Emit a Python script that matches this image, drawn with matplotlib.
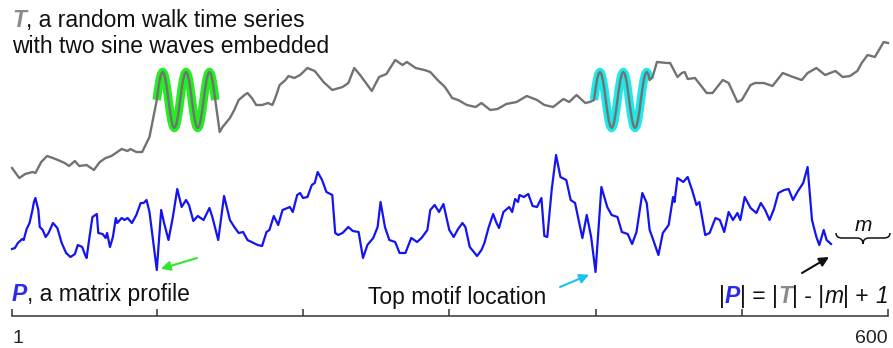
import matplotlib
matplotlib.use("Agg")
import matplotlib.pyplot as plt
from matplotlib.path import Path
from matplotlib.patches import PathPatch

plt.rcParams['font.family'] = ['Liberation Sans', 'DejaVu Sans']

# --- time series T (sample index, level) ---
walk_a_idx = [1, 6, 10, 15, 17, 21, 25, 29, 34, 37, 40, 44, 47, 52, 54, 57, 61, 65, 69, 71,
              76, 80, 82, 86, 90, 93, 95]
walk_a_val = [32, 22, 26, 28, 27, 38, 44, 42, 39, 37, 34, 39, 34, 35, 33, 30, 38, 42, 44, 46,
              51, 49, 51, 48, 48, 57, 63]

# first embedded sine wave, one value per sample from index 100
sine_a_start = 100
sine_a_val = [100, 111, 120, 126, 128, 126, 120, 111, 100, 89, 80, 74, 72, 74, 80, 89,
              100, 111, 120, 126, 128, 126, 120, 111, 100, 89, 80, 74, 72, 74, 80, 89,
              100, 111, 120, 126, 128, 126, 120, 111, 100]

walk_b_idx = [143, 145, 150, 153, 156, 160, 162, 165, 168, 172, 176, 179, 181, 184, 188, 190,
              194, 198, 203, 208, 214, 220, 227, 231, 235, 239, 247, 252, 257, 263, 268, 271,
              277, 283, 287, 292, 297, 302, 306, 312, 318, 322, 328, 333, 339, 346, 353, 360,
              365, 371, 378, 382, 387, 393, 396]
walk_b_val = [68, 73, 82, 90, 100, 105, 107, 102, 95, 95, 97, 95, 102, 115, 120, 124,
              122, 125, 132, 129, 118, 110, 113, 117, 132, 125, 109, 123, 126, 140, 135, 138,
              132, 130, 128, 120, 113, 102, 100, 95, 93, 97, 90, 91, 96, 98, 104, 100,
              95, 93, 101, 98, 105, 97, 98]

# second embedded sine wave, from index 399
sine_b_start = 399
sine_b_val = [100, 111, 120, 126, 128, 126, 120, 111, 100, 89, 80, 74, 72, 74, 80, 89,
              100, 111, 120, 126, 128, 126, 120, 111, 100, 89, 80, 74, 72, 74, 80, 89,
              100, 111, 120, 126, 128, 126, 120]

walk_c_idx = [439, 442, 449, 451, 456, 459, 461, 463, 468, 476, 480, 487, 491, 497, 500, 506,
              509, 515, 521, 528, 535, 541, 545, 551, 557, 564, 569, 574, 579, 582, 586, 591,
              597, 600]
walk_c_val = [123, 138, 137, 137, 123, 127, 128, 121, 122, 107, 107, 120, 117, 98, 100, 115,
              117, 117, 114, 127, 123, 120, 127, 132, 125, 129, 123, 124, 129, 137, 145, 143,
              158, 157]

# --- matrix profile P ---
p_idx = [1, 3, 5, 8, 9, 11, 13, 15, 16, 17, 19, 20, 22, 24, 26, 29, 32, 35, 38, 41,
         44, 46, 49, 51, 52, 54, 56, 59, 60, 63, 65, 66, 68, 70, 72, 73, 76, 78, 80, 83,
         86, 89, 91, 93, 95, 100, 103, 105, 108, 111, 114, 117, 120, 122, 125, 128, 132, 136, 138, 142,
         146, 150, 153, 156, 159, 162, 169, 172, 175, 177, 180, 183, 186, 191, 193, 196, 198, 200, 203, 206,
         208, 210, 213, 216, 220, 222, 224, 227, 231, 234, 238, 241, 244, 248, 251, 253, 256, 259, 263, 266,
         270, 274, 278, 281, 285, 287, 290, 293, 296, 298, 300, 303, 306, 309, 311, 314, 319, 322, 324, 327,
         330, 332, 334, 337, 341, 343, 345, 347, 348, 351, 354, 357, 360, 363, 365, 367, 370, 373, 376, 380,
         383, 386, 388, 391, 394, 397, 400, 404, 408, 411, 415, 418, 422, 425, 428, 432, 435, 437, 439, 443,
         446, 450, 453, 454, 456, 460, 463, 466, 469, 471, 475, 478, 482, 485, 488, 491, 494, 497, 499, 502,
         506, 510, 513, 516, 519, 522, 525, 529, 532, 535, 538, 542, 545, 548, 551, 553, 556, 558, 561]
p_val = [51, 52, 57, 61, 60, 71, 77, 90, 98, 102, 90, 73, 70, 63, 67, 77, 72, 57, 47, 43,
         46, 55, 53, 45, 42, 63, 83, 86, 67, 66, 62, 67, 53, 63, 82, 77, 82, 80, 82, 77,
         85, 97, 97, 100, 88, 30, 90, 77, 60, 83, 111, 93, 100, 95, 79, 84, 80, 92, 83, 60,
         104, 80, 73, 67, 68, 60, 55, 54, 68, 70, 84, 75, 90, 93, 88, 105, 107, 102, 103, 115,
         117, 128, 120, 108, 105, 67, 65, 67, 73, 69, 68, 42, 55, 62, 73, 98, 73, 60, 58, 47,
         47, 62, 58, 62, 70, 90, 95, 88, 96, 83, 70, 63, 71, 77, 73, 53, 44, 50, 57, 73,
         86, 78, 72, 88, 93, 88, 101, 98, 105, 103, 106, 94, 93, 102, 64, 63, 110, 145, 123, 120,
         100, 97, 83, 62, 85, 63, 28, 113, 93, 85, 83, 68, 66, 56, 68, 107, 97, 70, 62, 45,
         67, 75, 103, 98, 122, 118, 123, 110, 95, 98, 65, 67, 82, 80, 68, 88, 80, 87, 80, 103,
         92, 87, 97, 90, 80, 91, 107, 110, 111, 100, 108, 117, 133, 80, 63, 55, 70, 60, 56]

tick_pos = [1, 100, 200, 300, 400, 500, 600]
tick_lab = ['1', '', '', '', '', '', '600']

m = 40
W, H = 893, 348
FS = 16.5
GREY = '#727272'
BLUE = '#1414f0'
GREEN = '#22ee22'
CYAN = '#1ee8e8'

t_x = (walk_a_idx + list(range(sine_a_start, sine_a_start + len(sine_a_val)))
       + walk_b_idx + list(range(sine_b_start, sine_b_start + len(sine_b_val))) + walk_c_idx)
t_y = walk_a_val + sine_a_val + walk_b_val + sine_b_val + walk_c_val

x_lo = 1 - 12 / 1.4625
x_hi = 1 + (W - 12) / 1.4625

fig = plt.figure(figsize=(W / 100, H / 100), dpi=100)

# T panel
ax_t = fig.add_axes([0, (H - 190) / H, 1, 160 / H])
ax_t.set_xlim(x_lo, x_hi)
ax_t.set_ylim(10, 170)
ax_t.axis('off')
ax_t.plot(range(sine_a_start, sine_a_start + len(sine_a_val)), sine_a_val,
          color=GREEN, lw=6.2, solid_capstyle='butt')
ax_t.plot(range(sine_b_start, sine_b_start + len(sine_b_val)), sine_b_val,
          color=CYAN, lw=6.2, solid_capstyle='butt')
ax_t.plot(t_x, t_y, color=GREY, lw=1.7)

# P panel, its bottom spine is the index axis
ax_p = fig.add_axes([0, (H - 316) / H, 1, 166 / H])
ax_p.patch.set_visible(False)
ax_p.set_xlim(x_lo, x_hi)
ax_p.set_ylim(-16, 150)
ax_p.plot(p_idx, p_val, color=BLUE, lw=1.6)
for s in ['top', 'left', 'right']:
    ax_p.spines[s].set_visible(False)
ax_p.spines['bottom'].set_bounds(1, 600)
ax_p.spines['bottom'].set_color('#333333')
ax_p.spines['bottom'].set_linewidth(1.1)
ax_p.set_yticks([])
ax_p.set_xticks(tick_pos)
ax_p.set_xticklabels(tick_lab)
ax_p.tick_params(axis='x', direction='in', length=5, width=1.1, color='#333333',
                 labelsize=14, pad=10, labelcolor='#222222')
lbls = ax_p.get_xticklabels()
lbls[0].set_ha('left')
lbls[-1].set_ha('right')

# overlay in pixel units for labels
ax_o = fig.add_axes([0, 0, 1, 1])
ax_o.set_xlim(0, W)
ax_o.set_ylim(H, 0)
ax_o.axis('off')
ax_o.patch.set_visible(False)

rend = fig.canvas.get_renderer()


def put_runs(x, y, runs, ha='left', size=FS):
    arts = []
    cx = x
    for s, kw in runs:
        t = ax_o.text(cx, y, s, fontsize=size, va='baseline', ha='left', **kw)
        cx += t.get_window_extent(renderer=rend).width
        arts.append(t)
    if ha == 'right':
        shift = cx - x
        for t in arts:
            t.set_x(t.get_position()[0] - shift)


bold_it = dict(fontweight='bold', fontstyle='italic')
put_runs(12, 27, [('T', dict(color='#8a8a8a', **bold_it)),
                  (', a random walk time series', dict(color='#111111'))])
put_runs(12, 53, [('with two sine waves embedded', dict(color='#111111'))])
put_runs(12, 301, [('P', dict(color='#2a2aee', **bold_it)),
                   (', a matrix profile', dict(color='#111111'))])
put_runs(368, 304, [('Top motif location', dict(color='#111111'))])
put_runs(888, 303, [('|', dict(color='#111111')),
                    ('P', dict(color='#2a2aee', **bold_it)),
                    ('| = |', dict(color='#111111')),
                    ('T', dict(color='#8a8a8a', **bold_it)),
                    ('| - |', dict(color='#111111')),
                    ('m', dict(color='#111111', fontstyle='italic')),
                    ('| + ', dict(color='#111111')),
                    ('1', dict(color='#111111', fontstyle='italic'))], ha='right')
ax_o.text(863, 231, 'm', fontsize=15, fontstyle='italic', ha='center', va='baseline',
          color='#111111')

# brace spanning the last m samples
bx0, bx1, by0, by1, by2 = 836, 890, 233, 238, 244
bmid = (bx0 + bx1) / 2
verts = [(bx0, by0), (bx0, by1), (bx0 + 6, by1), (bmid - 6, by1), (bmid, by1), (bmid, by2),
         (bmid, by1), (bmid + 6, by1), (bx1 - 6, by1), (bx1, by1), (bx1, by0)]
codes = [Path.MOVETO, Path.CURVE3, Path.CURVE3, Path.LINETO, Path.CURVE3, Path.CURVE3,
         Path.CURVE3, Path.CURVE3, Path.LINETO, Path.CURVE3, Path.CURVE3]
ax_o.add_patch(PathPatch(Path(verts, codes), fill=False, lw=1.1, color='#111111'))

# arrows to the two motif locations and the end of P
pa = p_val[p_idx.index(sine_a_start)]
pb = p_val[p_idx.index(400)]
ax_p.annotate('', xy=(sine_a_start, pa), xytext=(197, 258), textcoords=ax_o.transData,
              arrowprops=dict(arrowstyle='-|>', color='#2ee82e', lw=1.5,
                              mutation_scale=14, shrinkA=0, shrinkB=3))
ax_p.annotate('', xy=(400, pb), xytext=(560, 287), textcoords=ax_o.transData,
              arrowprops=dict(arrowstyle='-|>', color='#1ec0f0', lw=1.5,
                              mutation_scale=14, shrinkA=0, shrinkB=5))
ax_o.annotate('', xy=(829, 257), xytext=(802, 273),
              arrowprops=dict(arrowstyle='-|>', color='#111111', lw=1.5,
                              mutation_scale=14, shrinkA=0, shrinkB=0))

fig.savefig('out.png', dpi=100)
